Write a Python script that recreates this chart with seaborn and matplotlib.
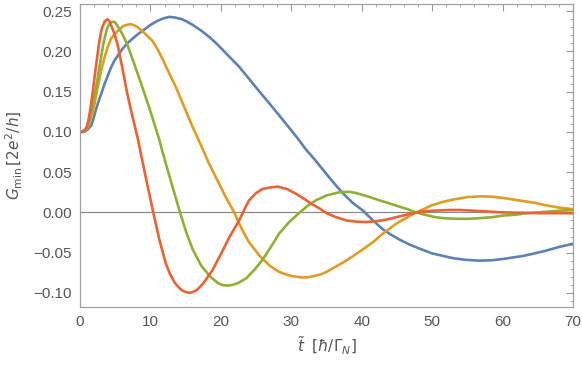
import numpy as np
import pandas as pd
import seaborn as sns
import matplotlib.pyplot as plt
from matplotlib.ticker import MultipleLocator

# curves (t in hbar/Gamma_N, G_min in 2e^2/h)
t_blue = [0, 0.4, 0.8, 1.2, 1.6, 1.9, 2.2, 2.6, 3.0, 3.5, 4.0, 4.4, 4.85, 5.3, 6.0, 6.7,
          7.6, 8.3, 9.1, 10.0, 11.0, 11.8, 12.7, 13.6, 14.5, 15.2, 16.0, 17.2, 18.5,
          19.6, 20.7, 22.6, 24.0, 25.5, 27.4, 28.7, 30.0, 31.0, 32.1, 33.3, 34.5, 35.9,
          37.3, 38.7, 40.2, 41.6, 43.0, 44.2, 45.4, 46.8, 48.2, 50, 51.5, 53, 54.8,
          56.8, 58.5, 60, 61.5, 63, 64.5, 66, 68, 70]
g_blue = [0.100, 0.100, 0.101, 0.104, 0.108, 0.116, 0.126, 0.137, 0.147, 0.160, 0.171,
          0.180, 0.188, 0.194, 0.203, 0.210, 0.217, 0.222, 0.227, 0.233, 0.238, 0.241,
          0.243, 0.242, 0.240, 0.237, 0.233, 0.226, 0.217, 0.208, 0.198, 0.181, 0.166,
          0.150, 0.130, 0.116, 0.102, 0.091, 0.078, 0.066, 0.053, 0.038, 0.024, 0.012,
          0.002, -0.010, -0.021, -0.028, -0.034, -0.040, -0.045, -0.051, -0.054, -0.057,
          -0.059, -0.060, -0.0595, -0.058, -0.056, -0.054, -0.051, -0.048, -0.043,
          -0.039]

t_orange = [0, 0.4, 0.8, 1.1, 1.4, 1.7, 2.0, 2.35, 2.7, 3.0, 3.4, 3.9, 4.4, 4.85, 5.3,
            5.8, 6.2, 6.7, 7.1, 7.6, 8.2, 8.9, 9.6, 10.3, 11.0, 11.7, 12.5, 13.6, 14.8,
            16.0, 17.2, 18.3, 19.5, 20.7, 21.9, 22.6, 23.3, 24.0, 25.5, 26.9, 28.3, 29.2,
            30.0, 31.6, 32.4, 33.3, 34.2, 35.0, 36.6, 37.4, 38.3, 40.0, 41.6, 43.2, 44.9,
            46.3, 47.7, 48.8, 50, 51.5, 53, 55, 57, 58.5, 60, 61.5, 63, 64.5, 66, 68, 70]
g_orange = [0.100, 0.101, 0.102, 0.106, 0.112, 0.121, 0.132, 0.148, 0.163, 0.176, 0.190,
            0.205, 0.216, 0.221, 0.225, 0.229, 0.232, 0.233, 0.234, 0.233, 0.230, 0.225,
            0.219, 0.213, 0.203, 0.191, 0.176, 0.156, 0.131, 0.106, 0.083, 0.061, 0.040,
            0.019, 0.000, -0.014, -0.026, -0.037, -0.054, -0.066, -0.074, -0.077, -0.079,
            -0.081, -0.0805, -0.079, -0.077, -0.074, -0.066, -0.062, -0.057, -0.047,
            -0.037, -0.025, -0.014, -0.007, 0.000, 0.004, 0.009, 0.013, 0.016, 0.019,
            0.020, 0.0195, 0.018, 0.016, 0.014, 0.012, 0.009, 0.006, 0.004]

t_green = [0, 0.4, 0.8, 1.1, 1.4, 1.7, 2.0, 2.4, 2.7, 3.0, 3.3, 3.6, 3.85, 4.1, 4.4, 4.7,
           5.0, 5.3, 6.0, 6.7, 7.6, 8.6, 9.8, 11.2, 12.2, 13.2, 14.2, 15.1, 16.0, 17.2,
           18.4, 19.6, 20.3, 21.0, 21.7, 22.4, 23.6, 24.8, 25.9, 27.1, 28.3, 29.7, 31.2,
           32.3, 33.5, 35.0, 36.8, 37.5, 38.3, 39.2, 40.8, 42.5, 44.0, 45.4, 46.5, 47.7,
           49.0, 50.5, 52.0, 53.7, 55.3, 57, 58.5, 60, 61.7, 63.4, 65, 66.5, 68, 70]
g_green = [0.100, 0.101, 0.103, 0.109, 0.118, 0.129, 0.142, 0.161, 0.178, 0.193, 0.209,
           0.220, 0.229, 0.233, 0.236, 0.237, 0.236, 0.232, 0.222, 0.209, 0.187, 0.162,
           0.131, 0.092, 0.060, 0.030, 0.000, -0.025, -0.046, -0.066, -0.079, -0.088,
           -0.0905, -0.091, -0.090, -0.088, -0.082, -0.071, -0.059, -0.043, -0.026,
           -0.012, 0.000, 0.008, 0.015, 0.021, 0.025, 0.0255, 0.0255, 0.024, 0.020,
           0.015, 0.011, 0.007, 0.004, 0.000, -0.003, -0.006, -0.0075, -0.008, -0.008,
           -0.007, -0.006, -0.004, -0.003, -0.001, 0.000, 0.001, 0.002, 0.003]

t_red = [0, 0.25, 0.5, 0.75, 1.0, 1.25, 1.5, 1.75, 2.0, 2.25, 2.5, 2.75, 3.0, 3.2, 3.5,
         3.7, 3.9, 4.15, 4.4, 4.8, 5.3, 6.0, 6.7, 7.4, 8.2, 9.3, 10.4, 11.3, 12.2, 12.8,
         13.5, 14.0, 14.5, 15.0, 15.5, 16.0, 16.5, 17.0, 17.6, 18.8, 20.0, 21.2, 22.6,
         23.3, 24.0, 25.0, 25.9, 27.0, 28.1, 29.4, 30.7, 31.8, 32.8, 34.0, 35.0, 36.4,
         37.8, 39.2, 40.6, 42.0, 43.5, 44.9, 46.3, 48.5, 50, 52.5, 54, 56, 58, 60, 65, 70]
g_red = [0.100, 0.100, 0.101, 0.103, 0.107, 0.117, 0.130, 0.146, 0.163, 0.181, 0.197,
         0.213, 0.225, 0.231, 0.237, 0.239, 0.240, 0.238, 0.233, 0.224, 0.210, 0.180,
         0.148, 0.121, 0.092, 0.045, 0.000, -0.035, -0.064, -0.077, -0.088, -0.093,
         -0.097, -0.099, -0.100, -0.099, -0.097, -0.093, -0.087, -0.072, -0.052, -0.031,
         -0.010, 0.003, 0.015, 0.024, 0.029, 0.031, 0.032, 0.029, 0.023, 0.017, 0.011,
         0.005, -0.001, -0.006, -0.010, -0.0115, -0.012, -0.011, -0.009, -0.006, -0.003,
         0.001, 0.002, 0.003, 0.003, 0.002, 0.001, 0.000, -0.001, -0.001]

names = ["blue", "orange", "green", "red"]
colors = ["#5E81B5", "#E19C24", "#8FB032", "#EB6235"]

df = pd.concat([
    pd.DataFrame({"t": t_blue, "G": g_blue, "curve": "blue"}),
    pd.DataFrame({"t": t_orange, "G": g_orange, "curve": "orange"}),
    pd.DataFrame({"t": t_green, "G": g_green, "curve": "green"}),
    pd.DataFrame({"t": t_red, "G": g_red, "curve": "red"}),
])

sns.set_style("white")
plt.rcParams["font.family"] = ["Liberation Sans", "DejaVu Sans"]
plt.rcParams["mathtext.fontset"] = "dejavusans"

fig = plt.figure(figsize=(5.82, 3.68), dpi=100)
ax = fig.add_axes([80 / 582, 1 - 307 / 368, 493 / 582, 303 / 368])

ax.axhline(0, color="#8a8a8a", lw=0.9, zorder=1)
sns.lineplot(data=df, x="t", y="G", hue="curve", hue_order=names,
             palette=colors, lw=1.9, legend=False, ax=ax, zorder=2,
             solid_joinstyle="round", solid_capstyle="round")

ax.set_xlim(0, 70)
ax.set_ylim(-0.1176, 0.259)
ax.xaxis.set_major_locator(MultipleLocator(10))
ax.xaxis.set_minor_locator(MultipleLocator(2))
ax.yaxis.set_major_locator(MultipleLocator(0.05))
ax.yaxis.set_minor_locator(MultipleLocator(0.01))
ax.yaxis.set_major_formatter(plt.FuncFormatter(lambda v, p: f"{v:.2f}".replace("-", "\u2212")))

ax.tick_params(which="both", direction="in", top=True, right=True,
               color="#9a9a9a", labelcolor="#555555", labelsize=11)
ax.tick_params(which="major", length=5, width=0.8, pad=6)
ax.tick_params(which="minor", length=2.5, width=0.6)
for s in ax.spines.values():
    s.set_color("#a0a0a0")
    s.set_linewidth(0.9)

ax.set_xlabel(r"$\tilde{t}$  $[\hbar/\Gamma_N]$", color="#555555", fontsize=11, labelpad=4)
ax.set_ylabel(r"$G_{\rm min}\,[2e^2/h]$", color="#555555", fontsize=11, labelpad=6)

fig.savefig("out.png", dpi=100)
